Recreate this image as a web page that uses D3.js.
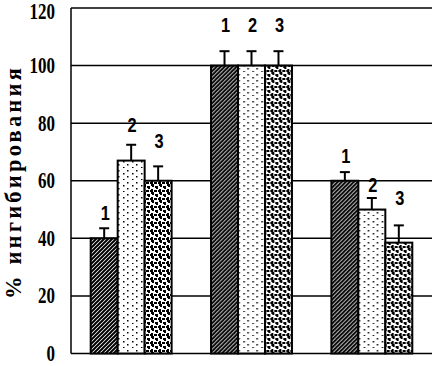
<!DOCTYPE html>
<html><head><meta charset="utf-8">
<script src="https://cdn.jsdelivr.net/npm/d3@7"></script>
<style>body{margin:0;background:#fff}svg{display:block}</style>
</head><body>
<svg id="c" width="433" height="366"></svg>
<script>
const groups = ["A", "B", "C"];
const series = ["1", "2", "3"];
const values = [[40, 67, 60], [100, 100, 100], [60, 50, 38.5]];
const errors = [[3.5, 5.5, 5], [5, 5, 5], [3, 4, 6]];
const labelLevels = [[46.5, 77, 71.5], [111.5, 111.5, 111.5], [66, 56, 51.5]];
const yTicks = [0, 20, 40, 60, 80, 100, 120];
const yTitle = "% ингибирования";

(function(){
const svg = d3.select("#c");
const defs = svg.append("defs");
// hatch
const p1 = defs.append("pattern").attr("id","p1").attr("patternUnits","userSpaceOnUse").attr("width",4).attr("height",4);
p1.append("rect").attr("width",4).attr("height",4).attr("fill","#fff");
p1.append("path").attr("d","M-1,1 l2,-2 M0,4 l4,-4 M3,5 l2,-2").attr("stroke","#000").attr("stroke-width",2);
// dots
const p2 = defs.append("pattern").attr("id","p2").attr("patternUnits","userSpaceOnUse").attr("width",9).attr("height",12);
p2.append("rect").attr("width",9).attr("height",12).attr("fill","#fff");
[[2,2],[7,5],[2,8],[7,11]].forEach(([x,y])=>p2.append("rect").attr("x",x).attr("y",y).attr("width",1.5).attr("height",1.5).attr("fill","#000"));
// blobs
const p3 = defs.append("pattern").attr("id","p3").attr("patternUnits","userSpaceOnUse").attr("width",8).attr("height",8);
p3.append("rect").attr("width",8).attr("height",8).attr("fill","#fff");
[[0,0,3,2],[1,2,2,1],[4,2,3,2],[5,4,2,1],[0,5,2,3],[3,6,3,2],[7,6,1,2]].forEach(([x,y,w,h])=>p3.append("rect").attr("x",x).attr("y",y).attr("width",w).attr("height",h).attr("fill","#000"));
const fills = ["url(#p1)","url(#p2)","url(#p3)"];

const mLeft = 71, mRight = 432, mTop = 8, mBottom = 353.5;
const y = d3.scaleLinear().domain([0,120]).range([mBottom, mTop]);
const x0 = d3.scaleBand().domain(groups).range([mLeft, mRight]).padding(0);
const x1 = d3.scaleBand().domain(series).range([0, x0.bandwidth()]).paddingInner(0).paddingOuter(0.73);

// gridlines
svg.append("g").selectAll("line").data(yTicks).join("line")
  .attr("x1", mLeft).attr("x2", mRight).attr("y1", d=>y(d)).attr("y2", d=>y(d))
  .attr("stroke","#000").attr("stroke-width",1.5);
svg.append("line").attr("x1",mLeft).attr("x2",mLeft).attr("y1",y(120)).attr("y2",y(0)).attr("stroke","#000").attr("stroke-width",1.5);

// tick labels
svg.append("g").selectAll("text").data(yTicks).join("text")
  .attr("transform", d=>`translate(55,${Math.max(y(d)+7.5, 19)}) scale(0.74,1)`)
  .attr("text-anchor","end")
  .style("font-family","'Liberation Serif','Times New Roman',serif").style("font-weight","bold").style("font-size","23px")
  .text(d=>d);

// y title
svg.append("text").attr("transform",`translate(20.5,182) rotate(-90)`)
  .attr("text-anchor","middle")
  .style("font-family","'Liberation Serif','Times New Roman',serif").style("font-weight","bold").style("font-size","22.5px")
  .style("letter-spacing","3.2px")
  .text(yTitle);

const g = svg.append("g").selectAll("g").data(groups).join("g")
  .attr("transform", d=>`translate(${x0(d)},0)`);
g.each(function(gname, gi){
  const sel = d3.select(this);
  series.forEach((s, si)=>{
    const v = values[gi][si], e = errors[gi][si];
    const bx = x1(s), bw = x1.bandwidth(), cx = bx + bw/2;
    sel.append("line").attr("x1",cx).attr("x2",cx).attr("y1",y(v)).attr("y2",y(v+e)).attr("stroke","#000").attr("stroke-width",2);
    sel.append("line").attr("x1",cx-5).attr("x2",cx+5).attr("y1",y(v+e)).attr("y2",y(v+e)).attr("stroke","#000").attr("stroke-width",2);
    sel.append("rect").attr("x",bx).attr("width",bw).attr("y",y(v)).attr("height",y(0)-y(v))
      .attr("fill",fills[si]).attr("stroke","#000").attr("stroke-width",2);
    sel.append("text").attr("transform",`translate(${cx+1},${y(labelLevels[gi][si])}) scale(0.78,1)`)
      .attr("text-anchor","middle")
      .style("font-family","'Liberation Sans Narrow','Liberation Sans',Arial,sans-serif").style("font-weight","bold").style("font-size","21px")
      .text(s);
  });
});
})();
</script>
</body></html>
